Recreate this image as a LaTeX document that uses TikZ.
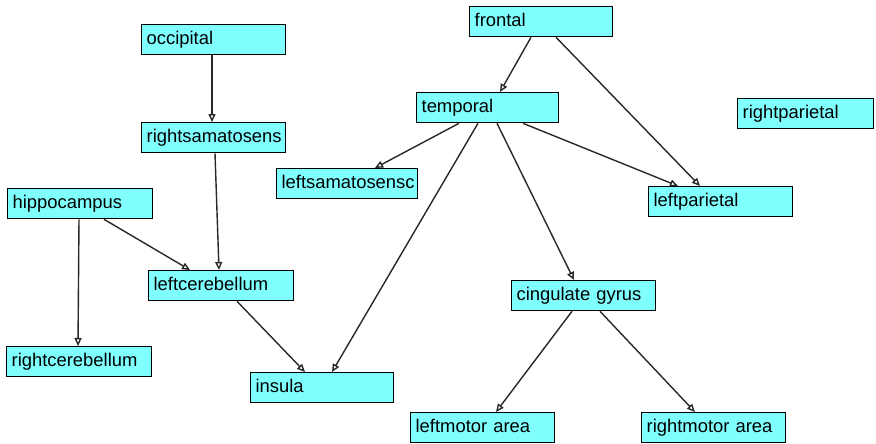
\documentclass[tikz,border=0pt]{standalone}
\usepackage{fontspec}
\setmainfont{Liberation Sans}
\usetikzlibrary{arrows.meta}

\definecolor{boxcyan}{RGB}{128,255,255}
\definecolor{linegray}{RGB}{40,40,40}

\tikzset{
  region/.style={draw=black, line width=1.3pt, fill=boxcyan, anchor=north west,
    minimum height=30pt, inner xsep=5pt, inner ysep=0pt, text height=13pt, text depth=4pt,
    font=\fontsize{18.4}{21}\selectfont},
  link/.style={draw=linegray, line width=1.4pt, -{Triangle[open, length=8pt, width=7pt]}}
}

\begin{document}
\begin{tikzpicture}[x=1pt, y=-1pt]
        \useasboundingbox (0,0) rectangle (876,444);

        % left group
        \node[region, minimum width=144pt, text width=134pt] (occipital) at (141,24) {occipital};
        \node[region, minimum width=144pt, text width=134pt] (rsamato) at (141,122) {rightsamatosens};
        \node[region, minimum width=145pt, text width=135pt] (hippo) at (7,188) {hippocampus};
        \node[region, minimum width=145pt, text width=135pt] (lcereb) at (148,270) {leftcerebellum};
        \node[region, minimum width=145pt, text width=135pt] (rcereb) at (6,346) {rightcerebellum};
        \node[region, minimum width=143pt, text width=133pt] (insula) at (250,372) {insula};

        % right group
        \node[region, minimum width=143pt, text width=133pt] (frontal) at (469,6) {frontal};
        \node[region, minimum width=142pt, text width=132pt] (temporal) at (416,92) {temporal};
        \node[region, minimum width=136pt, text width=126pt] (rparietal) at (737,98) {rightparietal};
        \node[region, minimum width=141pt, text width=131pt] (lsamato) at (276,168) {leftsamatosensc};
        \node[region, minimum width=144pt, text width=134pt] (lparietal) at (648,186) {leftparietal};
        \node[region, minimum width=144pt, text width=134pt] (cingulate) at (511,280) {cingulate gyrus};
        \node[region, minimum width=144pt, text width=134pt] (lmotor) at (410,412) {leftmotor area};
        \node[region, minimum width=144pt, text width=134pt] (rmotor) at (641,412) {rightmotor area};

        \draw[link] ([xshift=71pt]occipital.south west) -- ([xshift=71pt]rsamato.north west);
        \draw[link] ([xshift=74pt]rsamato.south west) -- ([xshift=71pt]lcereb.north west);
        \draw[link] ([xshift=97pt]hippo.south west) -- ([xshift=42pt]lcereb.north west);
        \draw[link] ([xshift=72pt]hippo.south west) -- ([xshift=72pt]rcereb.north west);
        \draw[link] ([xshift=89pt]lcereb.south west) -- ([xshift=55pt]insula.north west);

        \draw[link] ([xshift=62pt]frontal.south west) -- ([xshift=84pt]temporal.north west);
        \draw[link] ([xshift=87pt]frontal.south west) -- ([xshift=52pt]lparietal.north west);
        \draw[link] ([xshift=43pt]temporal.south west) -- ([xshift=99pt]lsamato.north west);
        \draw[link] ([xshift=62pt]temporal.south west) -- ([xshift=82pt]insula.north west);
        \draw[link] ([xshift=107pt]temporal.south west) -- ([xshift=30pt]lparietal.north west);
        \draw[link] ([xshift=81pt]temporal.south west) -- ([xshift=63pt]cingulate.north west);
        \draw[link] ([xshift=61pt]cingulate.south west) -- ([xshift=86pt]lmotor.north west);
        \draw[link] ([xshift=89pt]cingulate.south west) -- ([xshift=54pt]rmotor.north west);
\end{tikzpicture}
\end{document}
